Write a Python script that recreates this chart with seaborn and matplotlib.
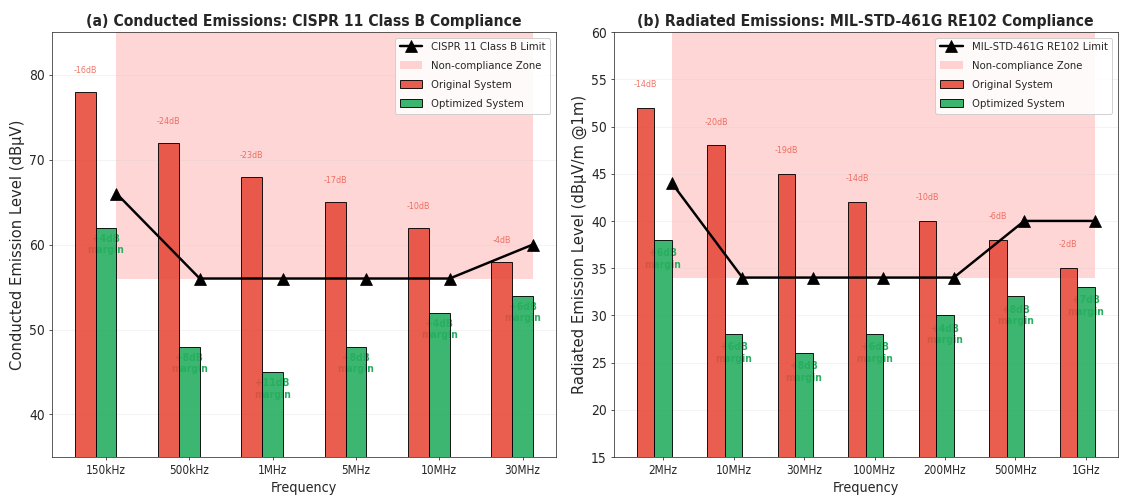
import numpy as np
import pandas as pd
import matplotlib
matplotlib.use("Agg")
import matplotlib.pyplot as plt
import seaborn as sns

# (a) conducted emissions
ce_freqs = ["150kHz", "500kHz", "1MHz", "5MHz", "10MHz", "30MHz"]
ce_original = [78, 72, 68, 65, 62, 58]
ce_optimized = [62, 48, 45, 48, 52, 54]
ce_limit = [66, 56, 56, 56, 56, 60]

# (b) radiated emissions
re_freqs = ["2MHz", "10MHz", "30MHz", "100MHz", "200MHz", "500MHz", "1GHz"]
re_original = [52, 48, 45, 42, 40, 38, 35]
re_optimized = [38, 28, 26, 28, 30, 32, 33]
re_limit = [44, 34, 34, 34, 34, 40, 40]

RED = "#E74C3C"
GREEN = "#27AE60"
WIDTH = 0.25

sns.set_style("ticks")
plt.rcParams["font.family"] = ["DejaVu Sans"]
plt.rcParams["font.stretch"] = "condensed"


def emission_panel(ax, freqs, original, optimized, limit, limit_label, ylim, yticks, ylabel, title):
    x = np.arange(len(freqs))
    df = pd.DataFrame({"x": x, "original": original, "optimized": optimized, "limit": limit})

    # bars
    for col, offset, color, label in [("original", -WIDTH, RED, "Original System"),
                                      ("optimized", 0.0, GREEN, "Optimized System")]:
        ax.bar(df["x"] + offset, df[col], WIDTH, color=color, alpha=0.9,
               edgecolor="black", linewidth=1, label=label, zorder=3)

    # limit line + non-compliance zone
    x_lim = df["x"] + WIDTH / 2
    sns.lineplot(x=x_lim, y=df["limit"], ax=ax, color="black", linewidth=2.5,
                 marker="^", markersize=13, markeredgecolor="black",
                 label=limit_label, zorder=5)
    ax.fill_between(x_lim, min(limit), ylim[1], color="red", alpha=0.16,
                    linewidth=0, label="Non-compliance Zone", zorder=0)

    # reduction / margin annotations
    for xi, o, p, lim in zip(df["x"], original, optimized, limit):
        ax.text(xi - WIDTH, o + 2, f"{p - o}dB", ha="center", va="bottom",
                fontsize=9, color=RED, alpha=0.75, zorder=2)
        ax.text(xi, p - 2, f"+{lim - p}dB\nmargin", ha="center", va="center",
                fontsize=10.5, color=GREEN, fontweight="bold", zorder=2)

    ax.set_ylim(*ylim)
    ax.set_yticks(yticks)
    ax.set_xticks(x)
    ax.set_xticklabels(freqs)
    ax.grid(axis="y", alpha=0.3, zorder=0)
    ax.set_axisbelow(True)
    for s in ax.spines.values():
        s.set_visible(True)
        s.set_color("#333333")
    ax.set_xlabel("Frequency", fontsize=14.5)
    ax.set_ylabel(ylabel, fontsize=15, fontstretch="normal")
    ax.set_title(title, fontsize=16, fontweight="bold")
    ax.tick_params(axis="x", labelsize=12)
    ax.tick_params(axis="y", labelsize=14)

    handles, labels = ax.get_legend_handles_labels()
    order = [labels.index(n) for n in [limit_label, "Non-compliance Zone",
                                       "Original System", "Optimized System"]]
    ax.legend([handles[i] for i in order], [labels[i] for i in order],
              loc="upper right", fontsize=11.5, labelspacing=0.8, framealpha=0.9)


fig, (ax1, ax2) = plt.subplots(1, 2, figsize=(16, 7.13), dpi=70.56)

emission_panel(ax1, ce_freqs, ce_original, ce_optimized, ce_limit,
               "CISPR 11 Class B Limit", (35, 85), [40, 50, 60, 70, 80],
               "Conducted Emission Level (dBμV)",
               "(a) Conducted Emissions: CISPR 11 Class B Compliance")
emission_panel(ax2, re_freqs, re_original, re_optimized, re_limit,
               "MIL-STD-461G RE102 Limit", (15, 60), list(range(15, 61, 5)),
               "Radiated Emission Level (dBμV/m @1m)",
               "(b) Radiated Emissions: MIL-STD-461G RE102 Compliance")

fig.subplots_adjust(left=0.046, right=0.990, top=0.936, bottom=0.0915, wspace=0.115)
fig.savefig("out.png", dpi=70.56)
